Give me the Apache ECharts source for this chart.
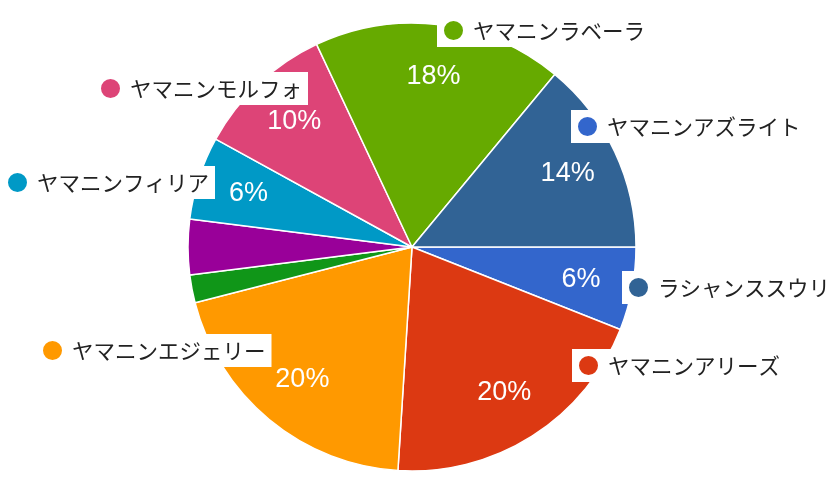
<!DOCTYPE html>
<html>
<head>
<meta charset="utf-8">
<script src="https://cdn.jsdelivr.net/npm/echarts@6/dist/echarts.min.js"></script>
<style>
html,body{margin:0;padding:0;background:#fff;}
#c{width:831px;height:488px;}
</style>
</head>
<body>
<div id="c"></div>
<script>
const names = ['ヤマニンアズライト','ヤマニンアリーズ','ヤマニンエジェリー','その他A','その他B','ヤマニンフィリア','ヤマニンモルフォ','ヤマニンラベーラ','ラシャンススウリ'];
const values = [3, 10, 10, 1, 2, 3, 5, 9, 7];
const colors = ['#3366cc','#dc3912','#ff9900','#109618','#990099','#0099c6','#dd4477','#66aa00','#316395'];
const legendNames = ['ヤマニンラベーラ','ヤマニンアズライト','ラシャンススウリ','ヤマニンアリーズ','ヤマニンモルフォ','ヤマニンフィリア','ヤマニンエジェリー'];

const legendSpots = [[437,14],[571,110],[622,271],[572,349],[94,72],[1,166],[36,334]];

const total = values.reduce((a,b)=>a+b,0);
const chart = echarts.init(document.getElementById('c'), null, {renderer:'canvas'});

const baseData = names.map((n,i)=>({name:n, value:values[i], itemStyle:{color:colors[i]}}));
const labelData = names.map((n,i)=>({name:n, value:values[i], label:{show: values[i]/total >= 0.05}}));

const legends = legendNames.map((n,k)=>({
  data:[{name:n, itemStyle:{color:colors[names.indexOf(n)]}}],
  left: legendSpots[k][0],
  top: legendSpots[k][1],
  orient:'horizontal',
  icon:'circle',
  itemWidth:21,
  itemHeight:21,
  padding:[5,6,5,5],
  backgroundColor:'#ffffff',
  selectedMode:false,
  textStyle:{fontSize:21.5, color:'#222222', fontFamily:'"Noto Sans CJK JP", sans-serif', padding:[0,0,0,4]}
}));

chart.setOption({
  backgroundColor:'#ffffff',
  animation:false,
  color: colors,
  legend: legends,
  series:[
    {
      type:'pie',
      center:[412,247],
      radius:[0,224],
      startAngle:0,
      clockwise:true,
      data: baseData,
      label:{show:false},
      labelLine:{show:false},
      itemStyle:{borderColor:'#ffffff', borderWidth:1.5},
      emphasis:{disabled:true},
      z:1
    },
    {
      type:'pie',
      center:[412,247],
      radius:[114,224],
      startAngle:0,
      clockwise:true,
      silent:true,
      percentPrecision:0,
      data: labelData,
      itemStyle:{color:'rgba(0,0,0,0)', borderWidth:0},
      label:{position:'inside', formatter:'{d}%', color:'#ffffff', fontSize:27, fontFamily:'"Liberation Sans", Arial, sans-serif'},
      labelLine:{show:false},
      emphasis:{disabled:true},
      z:2
    }
  ]
});
</script>
</body>
</html>
